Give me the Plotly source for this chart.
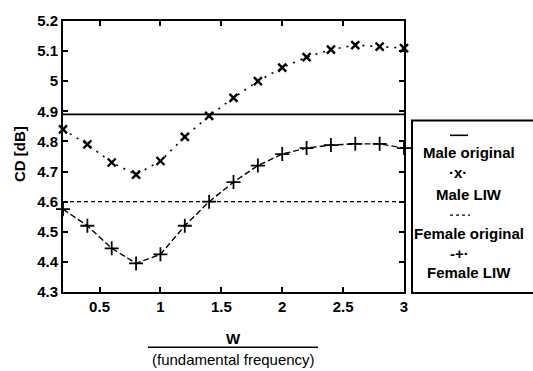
import plotly.graph_objects as go

# ---- data ----
w = [0.2, 0.4, 0.6, 0.8, 1.0, 1.2, 1.4, 1.6, 1.8, 2.0, 2.2, 2.4, 2.6, 2.8, 3.0]
male_liw = [4.84, 4.79, 4.73, 4.69, 4.735, 4.815, 4.885, 4.945, 5.0, 5.045, 5.08, 5.105, 5.12, 5.115, 5.11]
female_liw = [4.575, 4.52, 4.445, 4.395, 4.425, 4.52, 4.60, 4.665, 4.72, 4.758, 4.778, 4.788, 4.792, 4.792, 4.778]
male_original = 4.89
female_original = 4.60
x_ticks = [0.5, 1.0, 1.5, 2.0, 2.5, 3.0]
x_tick_text = ["0.5", "1", "1.5", "2", "2.5", "3"]
y_ticks = [4.3, 4.4, 4.5, 4.6, 4.7, 4.8, 4.9, 5.0, 5.1, 5.2]
y_tick_text = ["4.3", "4.4", "4.5", "4.6", "4.7", "4.8", "4.9", "5", "5.1", "5.2"]
legend_labels = ["Male original", "Male LIW", "Female original", "Female LIW"]

FONT = "Liberation Sans, Arial, sans-serif"
fig = go.Figure()

fig.add_trace(go.Scatter(x=[0.2, 3.0], y=[male_original, male_original], mode="lines",
                         line=dict(color="black", width=1.6), showlegend=False))
fig.add_trace(go.Scatter(x=[0.2, 3.0], y=[female_original, female_original], mode="lines",
                         line=dict(color="black", width=1.3, dash="4px,3px"), showlegend=False))
fig.add_trace(go.Scatter(x=w, y=male_liw, mode="lines+markers",
                         line=dict(color="black", width=1.6, dash="2px,6px"),
                         marker=dict(symbol="x-thin", size=8, line=dict(color="black", width=2.4)),
                         cliponaxis=False, showlegend=False))
fig.add_trace(go.Scatter(x=w, y=female_liw, mode="lines+markers",
                         line=dict(color="black", width=1.4, dash="6px,3px"),
                         marker=dict(symbol="cross-thin", size=10, line=dict(color="black", width=1.8)),
                         cliponaxis=False, showlegend=False))

L, R, T, B = 63, 129, 17, 79
PW, PH = 533 - L - R, 371 - T - B

def px(xp):
    return (xp - L) / PW

def py(yp):
    return (371 - B - yp) / PH

axis_common = dict(showgrid=False, zeroline=False, showline=True, linecolor="black", linewidth=2,
                   mirror="ticks", ticks="inside", ticklen=5, tickwidth=1.5, tickcolor="black",
                   tickfont=dict(family=FONT, size=15, color="black", weight="bold"))

fig.update_xaxes(range=[0.2, 3.0], tickvals=x_ticks, ticktext=x_tick_text, **axis_common)
fig.update_yaxes(range=[4.3, 5.2], tickvals=y_ticks, ticktext=y_tick_text, **axis_common)

ann_font = dict(family=FONT, size=15, color="black", weight="bold")

def ann(text, xp, yp, font=ann_font, **kw):
    return dict(text=text, x=px(xp), y=py(yp), xref="paper", yref="paper", showarrow=False,
                xanchor="center", yanchor="middle", font=font, **kw)

annotations = [
    ann("W", 233, 339),
    ann("(fundamental frequency)", 233, 360, font=dict(family=FONT, size=15, color="black")),
    ann("CD [dB]", 19, 152, textangle=-90),
]
legend_rows = [(150, legend_labels[0]), (193, legend_labels[1]), (233, legend_labels[2]), (272, legend_labels[3])]
for ypos, lab in legend_rows:
    annotations.append(ann(lab, 469, ypos))
annotations.append(ann("·x·", 458, 171))
annotations.append(ann("-+·", 459, 253))

shapes = [
    dict(type="line", xref="paper", yref="paper", x0=px(148), x1=px(318), y0=py(348), y1=py(348),
         line=dict(color="black", width=1.5)),
    dict(type="rect", xref="paper", yref="paper", x0=px(412), x1=px(560), y0=py(293), y1=py(118),
         line=dict(color="black", width=2)),
    dict(type="line", xref="paper", yref="paper", x0=px(450), x1=px(468), y0=py(133), y1=py(133),
         line=dict(color="black", width=1.6)),
    dict(type="line", xref="paper", yref="paper", x0=px(450), x1=px(470), y0=py(214), y1=py(214),
         line=dict(color="black", width=1.3, dash="3px,3px")),
]

fig.update_layout(width=533, height=371, margin=dict(l=L, r=R, t=T, b=B),
                  plot_bgcolor="white", paper_bgcolor="white",
                  annotations=annotations, shapes=shapes, showlegend=False)

fig.write_html("out.html")
